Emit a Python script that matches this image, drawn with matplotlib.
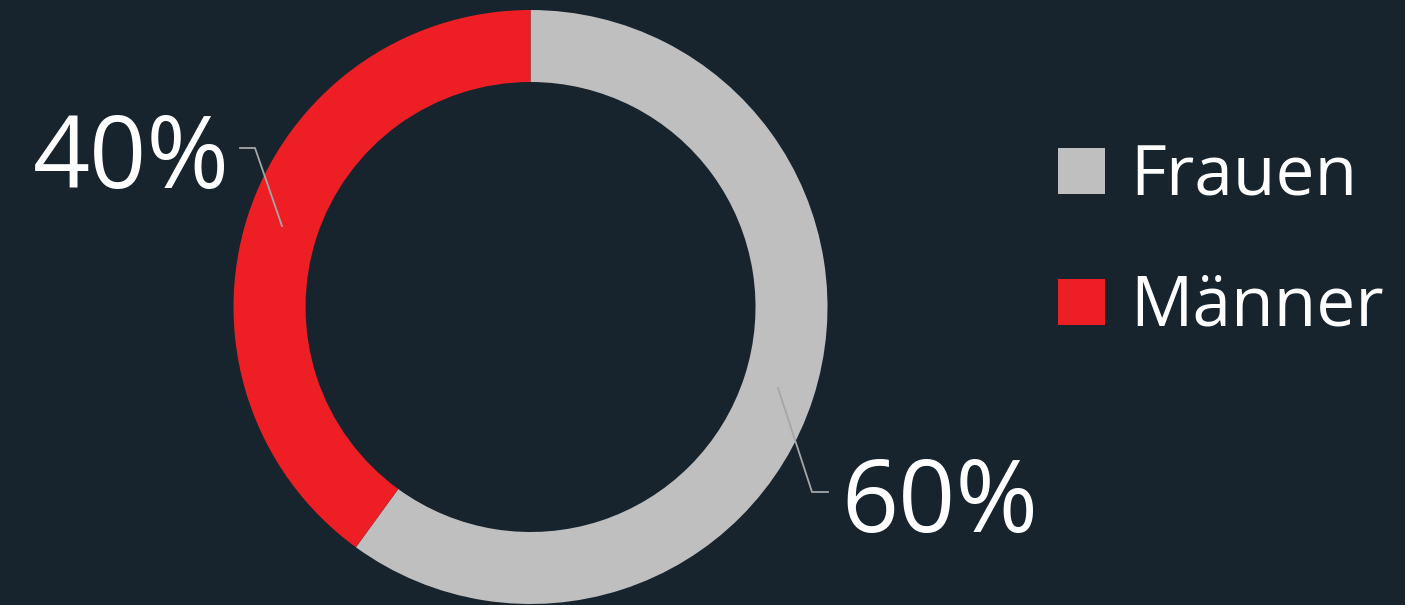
import matplotlib.pyplot as plt
from matplotlib.patches import Rectangle

plt.rcParams['font.family'] = ['Open Sans', 'DejaVu Sans']

labels = ['Frauen', 'Männer']
shares = [60, 40]
colors = ['#bfbfbf', '#ee1f24']
pct_labels = ['60%', '40%']

bg = '#17242e'

fig = plt.figure(figsize=(14.05, 6.05), dpi=100, facecolor=bg)
ax = fig.add_axes([0, 0, 1, 1])
ax.set_facecolor(bg)

# donut, pixel coordinates with y pointing up
ax.pie(shares, colors=colors, startangle=90, counterclock=False,
       center=(530.5, 298), radius=297,
       wedgeprops=dict(width=72, linewidth=0))

ax.set_xlim(0, 1405)
ax.set_ylim(0, 605)
ax.set_aspect('equal')
ax.set_axis_off()

# leader lines
ax.plot([778, 812, 828], [217, 113, 113], color='#a6a6a6', lw=1.3)
ax.plot([240, 255, 282], [457, 457, 379], color='#a6a6a6', lw=1.3)

# percentage labels
ax.text(841, 73, pct_labels[0], color='white', fontsize=72, ha='left', va='baseline')
ax.text(33, 417, pct_labels[1], color='white', fontsize=72, ha='left', va='baseline')

# legend
for i, (lab, col) in enumerate(zip(labels, colors)):
    y0 = 411 - i * 131
    ax.add_patch(Rectangle((1058, y0), 47, 46, facecolor=col, edgecolor='none'))
    ax.text(1130, y0 - 1, lab, color='white', fontsize=50, ha='left', va='baseline')

fig.savefig('out.png', dpi=100, facecolor=bg)
